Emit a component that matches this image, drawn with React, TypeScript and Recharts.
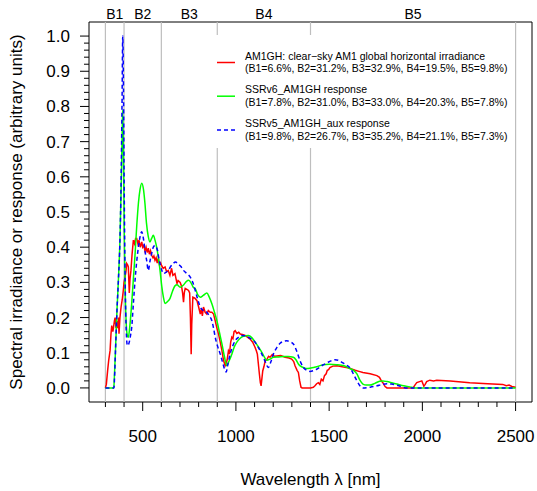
import React from "react";
import {
  LineChart,
  Line,
  XAxis,
  YAxis,
  ReferenceLine,
  ReferenceArea,
  Legend,
} from "recharts";

const FONT = "'Liberation Sans', Arial, Helvetica, sans-serif";

// AM1GH clear-sky irradiance
const amWl = [
  300, 305, 312, 318, 325, 330, 334, 340, 343, 348,
  352, 357, 362, 366, 370, 373, 378, 384, 390, 396,
  400, 405, 410, 414, 419, 423, 426, 428, 432, 437,
  443, 450, 456, 462, 468, 474, 480, 487, 495, 500,
  506, 512, 518, 524, 530, 536, 542, 548, 555, 560,
  566, 572, 578, 584, 590, 596, 601, 610, 620, 628,
  637, 646, 655, 662, 673, 684, 690, 701, 708, 714,
  719, 723, 728, 737, 746, 752, 756, 760, 763, 769,
  780, 791, 800, 809, 815, 820, 826, 835, 844, 852,
  862, 871, 880, 889, 898, 907, 916, 925, 933, 942,
  948, 953, 960, 966, 972, 978, 984, 990, 996, 1005,
  1015, 1023, 1035, 1049, 1060, 1076, 1090, 1103, 1110, 1115,
  1120, 1126, 1131, 1135, 1140, 1144, 1150, 1157, 1165, 1175,
  1183, 1195, 1207, 1219, 1240, 1264, 1285, 1299, 1310, 1317,
  1328, 1335, 1342, 1349, 1355, 1400, 1415, 1424, 1433, 1442,
  1450, 1458, 1467, 1475, 1484, 1490, 1497, 1504, 1520, 1542,
  1570, 1600, 1612, 1640, 1660, 1681, 1720, 1756, 1770, 1780,
  1788, 1800, 1810, 1950, 1960, 1970, 1985, 1997, 2003, 2008,
  2015, 2023, 2040, 2060, 2077, 2150, 2254, 2350, 2431, 2450,
  2465, 2480, 2500,
];
const amVal = [
  0, 0.01, 0.05, 0.08, 0.106, 0.154, 0.177, 0.16, 0.17, 0.19,
  0.2, 0.17, 0.19, 0.17, 0.2, 0.154, 0.2, 0.23, 0.25, 0.277,
  0.3, 0.315, 0.33, 0.354, 0.35, 0.344, 0.3, 0.27, 0.31, 0.334,
  0.38, 0.42, 0.41, 0.425, 0.425, 0.41, 0.42, 0.4, 0.415, 0.4,
  0.405, 0.39, 0.4, 0.385, 0.397, 0.38, 0.39, 0.377, 0.37, 0.375,
  0.363, 0.37, 0.355, 0.368, 0.35, 0.355, 0.348, 0.34, 0.344, 0.33,
  0.334, 0.32, 0.34, 0.32, 0.325, 0.297, 0.305, 0.3, 0.29, 0.27,
  0.244, 0.27, 0.283, 0.28, 0.277, 0.27, 0.2, 0.096, 0.18, 0.258,
  0.255, 0.248, 0.23, 0.21, 0.225, 0.205, 0.23, 0.215, 0.21, 0.22,
  0.215, 0.215, 0.21, 0.191, 0.17, 0.153, 0.13, 0.106, 0.08, 0.063,
  0.07, 0.08, 0.106, 0.1, 0.13, 0.144, 0.14, 0.16, 0.163, 0.155,
  0.158, 0.153, 0.152, 0.149, 0.145, 0.139, 0.13, 0.115, 0.105, 0.096,
  0.07, 0.039, 0.015, 0.006, 0.03, 0.049, 0.06, 0.077, 0.08, 0.09,
  0.087, 0.095, 0.09, 0.091, 0.092, 0.087, 0.085, 0.082, 0.075, 0.063,
  0.05, 0.044, 0.02, 0.002, 0, 0, 0.002, 0.006, 0.012, 0.015,
  0.01, 0.025, 0.02, 0.035, 0.04, 0.05, 0.052, 0.058, 0.062, 0.063,
  0.06, 0.057, 0.055, 0.05, 0.047, 0.044, 0.04, 0.035, 0.03, 0.02,
  0.015, 0.004, 0, 0, 0.008, 0.015, 0.018, 0.02, 0.012, 0.005,
  0.01, 0.018, 0.022, 0.02, 0.022, 0.02, 0.015, 0.012, 0.01, 0.006,
  0.008, 0.004, 0.002,
];

// SSRv6 response
const v6Wl = [
  300, 345, 348, 355, 362, 370, 378, 385, 390, 393,
  397, 401, 406, 412, 418, 423, 430, 441, 450, 459,
  468, 477, 486, 495, 504, 512, 520, 530, 539, 548,
  557, 566, 575, 584, 593, 602, 611, 620, 632, 646,
  660, 673, 684, 701, 720, 735, 746, 760, 771, 782,
  795, 809, 825, 844, 857, 871, 885, 898, 912, 925,
  938, 951, 962, 978, 990, 1005, 1020, 1040, 1067, 1085,
  1103, 1120, 1139, 1152, 1166, 1183, 1201, 1230, 1255, 1280,
  1308, 1322, 1335, 1348, 1362, 1380, 1397, 1415, 1433, 1467,
  1500, 1542, 1580, 1612, 1630, 1649, 1665, 1681, 1700, 1719,
  1745, 1770, 1788, 1810, 1840, 1863, 1900, 1933, 1960, 2500,
];
const v6Val = [
  0, 0, 0.03, 0.12, 0.22, 0.31, 0.42, 0.58, 0.72, 0.79,
  0.65, 0.45, 0.28, 0.18, 0.148, 0.144, 0.17, 0.24, 0.31, 0.38,
  0.46, 0.525, 0.565, 0.582, 0.565, 0.525, 0.47, 0.43, 0.415, 0.425,
  0.434, 0.42, 0.4, 0.37, 0.334, 0.29, 0.258, 0.24, 0.245, 0.254,
  0.275, 0.29, 0.293, 0.286, 0.293, 0.303, 0.306, 0.298, 0.286, 0.282,
  0.265, 0.258, 0.263, 0.27, 0.258, 0.239, 0.215, 0.191, 0.157, 0.125,
  0.09, 0.063, 0.075, 0.096, 0.115, 0.13, 0.14, 0.147, 0.149, 0.143,
  0.13, 0.117, 0.101, 0.088, 0.079, 0.082, 0.087, 0.088, 0.089, 0.089,
  0.087, 0.08, 0.068, 0.061, 0.058, 0.055, 0.056, 0.058, 0.06, 0.066,
  0.067, 0.066, 0.063, 0.055, 0.05, 0.04, 0.022, 0.011, 0.008, 0.008,
  0.013, 0.019, 0.02, 0.018, 0.014, 0.011, 0.006, 0.003, 0, 0,
];

// SSRv5 aux response
const v5Wl = [
  300, 346, 349, 355, 362, 370, 378, 384, 389, 393,
  397, 401, 406, 412, 416, 420, 428, 435, 441, 450,
  459, 468, 477, 486, 495, 502, 509, 515, 521, 530,
  539, 548, 557, 566, 573, 580, 586, 593, 602, 611,
  620, 637, 650, 664, 676, 690, 705, 719, 737, 755,
  770, 782, 795, 809, 825, 844, 857, 871, 880, 889,
  902, 916, 930, 942, 948, 956, 969, 982, 996, 1012,
  1032, 1050, 1067, 1085, 1103, 1120, 1139, 1157, 1174, 1188,
  1201, 1220, 1237, 1255, 1273, 1290, 1308, 1322, 1335, 1348,
  1362, 1380, 1397, 1415, 1433, 1460, 1488, 1510, 1531, 1552,
  1574, 1593, 1612, 1630, 1649, 1665, 1681, 1720, 1756, 1785,
  1810, 1835, 1863, 1890, 1910, 2500,
];
const v5Val = [
  0, 0, 0.03, 0.12, 0.22, 0.31, 0.42, 0.58, 0.8, 1.0,
  0.85, 0.55, 0.3, 0.16, 0.125, 0.12, 0.13, 0.15, 0.172, 0.24,
  0.306, 0.36, 0.4, 0.43, 0.444, 0.43, 0.405, 0.38, 0.363, 0.334,
  0.36, 0.382, 0.4, 0.405, 0.4, 0.39, 0.37, 0.353, 0.335, 0.325,
  0.327, 0.334, 0.345, 0.354, 0.358, 0.352, 0.345, 0.334, 0.325, 0.315,
  0.298, 0.277, 0.252, 0.23, 0.22, 0.215, 0.205, 0.191, 0.17, 0.144,
  0.118, 0.096, 0.07, 0.049, 0.045, 0.065, 0.096, 0.118, 0.134, 0.143,
  0.149, 0.148, 0.144, 0.138, 0.13, 0.115, 0.096, 0.075, 0.058, 0.075,
  0.096, 0.115, 0.127, 0.132, 0.134, 0.131, 0.125, 0.11, 0.091, 0.072,
  0.058, 0.05, 0.047, 0.049, 0.053, 0.063, 0.071, 0.077, 0.08, 0.078,
  0.071, 0.065, 0.057, 0.04, 0.02, 0.006, 0, 0.002, 0.006, 0.01,
  0.012, 0.011, 0.008, 0.003, 0, 0,
];

const bandEdges = [300, 400, 600, 900, 1400, 2500];
const bandCenters = [350, 500, 750, 1150, 1950];
const bandLabels = ["B1", "B2", "B3", "B4", "B5"];

const xTicks = [
  300, 400, 500, 600, 700, 800, 900, 1000, 1100, 1200, 1300, 1400,
  1500, 1600, 1700, 1800, 1900, 2000, 2100, 2200, 2300, 2400, 2500,
];
const xMajor = [500, 1000, 1500, 2000, 2500];
const yTicks = [
  0, 0.02, 0.04, 0.06, 0.08, 0.1, 0.12, 0.14, 0.16, 0.18,
  0.2, 0.22, 0.24, 0.26, 0.28, 0.3, 0.32, 0.34, 0.36, 0.38,
  0.4, 0.42, 0.44, 0.46, 0.48, 0.5, 0.52, 0.54, 0.56, 0.58,
  0.6, 0.62, 0.64, 0.66, 0.68, 0.7, 0.72, 0.74, 0.76, 0.78,
  0.8, 0.82, 0.84, 0.86, 0.88, 0.9, 0.92, 0.94, 0.96, 0.98, 1.0,
];
const yMajor = [0, 0.1, 0.2, 0.3, 0.4, 0.5, 0.6, 0.7, 0.8, 0.9, 1.0];

const seriesNames = [
  "AM1GH: clear\u2212sky AM1 global horizontal irradiance",
  "SSRv6_AM1GH response",
  "SSRv5_AM1GH_aux response",
];
const seriesStats = [
  "(B1=6.6%, B2=31.2%, B3=32.9%, B4=19.5%, B5=9.8%)",
  "(B1=7.8%, B2=31.0%, B3=33.0%, B4=20.3%, B5=7.8%)",
  "(B1=9.8%, B2=26.7%, B3=35.2%, B4=21.1%, B5=7.3%)",
];
const seriesColors = ["#ff0000", "#00ff00", "#0000ff"];

const toPoints = (wl: number[], val: number[]) =>
  wl.map((w, i) => ({ wl: w, v: val[i] }));

const amData = toPoints(amWl, amVal);
const v6Data = toPoints(v6Wl, v6Val);
const v5Data = toPoints(v5Wl, v5Val);

const XTick = (props: any) => {
  const { x, y, payload } = props;
  const major = xMajor.includes(payload.value);
  return (
    <g>
      <line x1={x} x2={x} y1={y} y2={y + (major ? 9 : 5)} stroke="#000" />
      {major && (
        <text
          x={x}
          y={y + 34}
          dy="0.35em"
          textAnchor="middle"
          fontSize={17}
          fontFamily={FONT}
          fill="#000"
        >
          {payload.value}
        </text>
      )}
    </g>
  );
};

const YTick = (props: any) => {
  const { x, y, payload } = props;
  const major = yMajor.some((m) => Math.abs(m - payload.value) < 1e-6);
  return (
    <g>
      <line x1={x} x2={x - (major ? 9 : 5)} y1={y} y2={y} stroke="#000" />
      {major && (
        <text
          x={x - 19}
          y={y}
          dy="0.35em"
          textAnchor="end"
          fontSize={17}
          fontFamily={FONT}
          fill="#000"
        >
          {payload.value.toFixed(1)}
        </text>
      )}
    </g>
  );
};

// band name above the plot box
const BandLabel = (props: any) => {
  const { viewBox, name } = props;
  return (
    <text
      x={viewBox.x}
      y={viewBox.y - 3.5}
      textAnchor="middle"
      fontSize={14}
      fontFamily={FONT}
      fill="#000"
    >
      {name}
    </text>
  );
};

const AxisTitle = ({ tx, ty, rot, text }: any) => (
  <text
    x={tx}
    y={ty}
    dy="0.35em"
    textAnchor="middle"
    fontSize={17}
    fontFamily={FONT}
    fill="#000"
    transform={rot ? `rotate(${rot} ${tx} ${ty})` : undefined}
  >
    {text}
  </text>
);

const LegendBox = () => (
  <svg width={309} height={113} style={{ display: "block" }}>
    {seriesNames.map((name, i) => {
      const top = 21 + i * 33.7;
      return (
        <g key={name}>
          <line
            x1={12}
            x2={30}
            y1={top + 6.5}
            y2={top + 6.5}
            stroke={seriesColors[i]}
            strokeWidth={1.5}
            strokeDasharray={i === 2 ? "4 3" : undefined}
          />
          <text x={40} y={top} dy="0.35em" fontSize={10.5} fontFamily={FONT} fill="#000">
            {name}
          </text>
          <text x={40} y={top + 12.5} dy="0.35em" fontSize={10.5} fontFamily={FONT} fill="#000">
            {seriesStats[i]}
          </text>
        </g>
      );
    })}
  </svg>
);

export default function App() {
  return (
    <div style={{ position: "absolute", left: 0, top: 0, width: 537, height: 491 }}>
      <LineChart width={537} height={491} margin={{ top: 22, right: 5, bottom: 0, left: 0 }}>
        <XAxis
          dataKey="wl"
          type="number"
          domain={[212, 2588]}
          allowDataOverflow
          ticks={xTicks}
          interval={0}
          height={89}
          tickSize={0}
          tickMargin={0}
          axisLine={false}
          tickLine={false}
          tick={<XTick />}
          label={<AxisTitle tx={310.5} ty={479} text={"Wavelength \u03bb [nm]"} />}
        />
        <YAxis
          type="number"
          domain={[-0.04, 1.04]}
          allowDataOverflow
          ticks={yTicks}
          interval={0}
          width={89}
          tickSize={0}
          tickMargin={0}
          axisLine={false}
          tickLine={false}
          tick={<YTick />}
          label={
            <AxisTitle
              tx={16}
              ty={212}
              rot={-90}
              text="Spectral irradiance or response (arbitrary units)"
            />
          }
        />
        <ReferenceArea
          x1={212}
          x2={2588}
          y1={-0.04}
          y2={1.04}
          fill="none"
          stroke="#000"
          strokeWidth={1}
          fillOpacity={0}
        />
        {bandEdges.map((e) => (
          <ReferenceLine key={e} x={e} stroke="#bebebe" strokeWidth={1.2} />
        ))}
        {bandCenters.map((c, i) => (
          <ReferenceLine
            key={`b${c}`}
            x={c}
            stroke="none"
            label={<BandLabel name={bandLabels[i]} />}
          />
        ))}
        <Line
          data={amData}
          dataKey="v"
          type="linear"
          stroke={seriesColors[0]}
          strokeWidth={1.5}
          dot={false}
          activeDot={false}
          isAnimationActive={false}
        />
        <Line
          data={v6Data}
          dataKey="v"
          type="monotone"
          stroke={seriesColors[1]}
          strokeWidth={1.5}
          dot={false}
          activeDot={false}
          isAnimationActive={false}
        />
        <Line
          data={v5Data}
          dataKey="v"
          type="monotone"
          stroke={seriesColors[2]}
          strokeWidth={1.5}
          strokeDasharray="4 3"
          dot={false}
          activeDot={false}
          isAnimationActive={false}
        />
        <Legend
          layout="vertical"
          align="center"
          verticalAlign="middle"
          content={<LegendBox />}
          wrapperStyle={{
            position: "absolute",
            left: 205,
            top: 35,
            width: 309,
            height: 113,
            background: "#fff",
            margin: 0,
            padding: 0,
          }}
        />
      </LineChart>
    </div>
  );
}
